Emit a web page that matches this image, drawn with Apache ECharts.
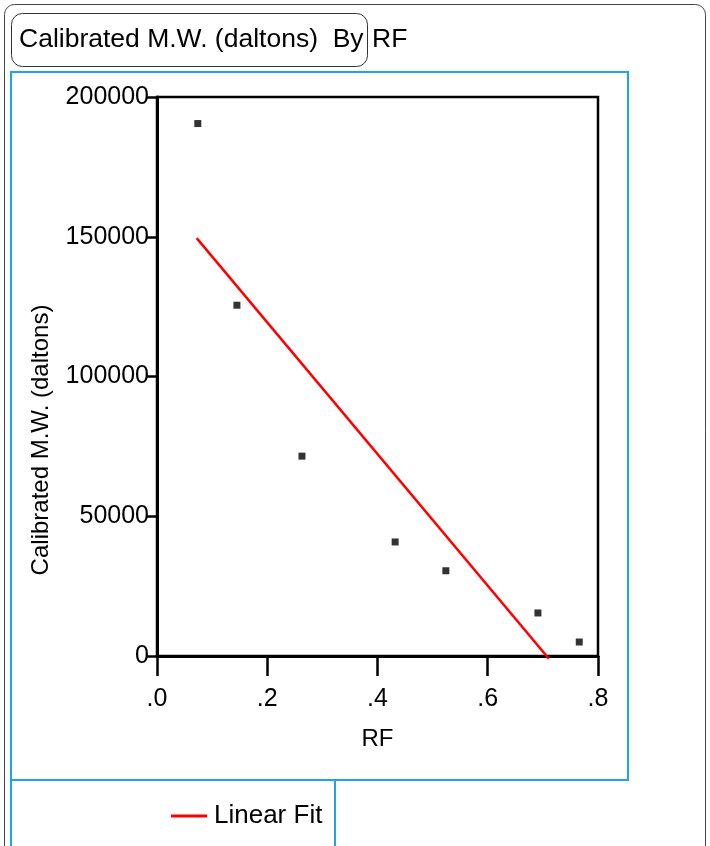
<!DOCTYPE html>
<html>
<head>
<meta charset="utf-8">
<script src="https://cdn.jsdelivr.net/npm/echarts@6/dist/echarts.min.js"></script>
<style>
html,body{margin:0;padding:0;background:#fff;}
#chart{width:710px;height:846px;}
</style>
</head>
<body>
<div id="chart"></div>
<script>
// Data
var rfValues = [0.074, 0.145, 0.263, 0.432, 0.524, 0.691, 0.766];
var mwValues = [190500, 125500, 71500, 40800, 30500, 15400, 5000];
var fitRF = [0.072, 0.711];
var fitMW = [149500, -1000];
var xTickLabels = ['.0', '.2', '.4', '.6', '.8'];
var titleLeft = 'Calibrated M.W. (daltons)  By';
var titleRight = 'RF';
var yName = 'Calibrated M.W. (daltons)';
var xName = 'RF';
var legendName = 'Linear Fit';

var FONT = '"Liberation Sans", Arial, sans-serif';
var BLUE = '#1aa7e0';

var scatterData = rfValues.map(function (x, i) { return [x, mwValues[i]]; });
var fitData = fitRF.map(function (x, i) { return [x, fitMW[i]]; });

var chart = echarts.init(document.getElementById('chart'), null, {renderer: 'canvas'});
chart.setOption({
  animation: false,
  backgroundColor: '#fff',
  grid: {
    left: 157, top: 97, right: 112, bottom: 190,
    show: true, borderColor: '#000', borderWidth: 2.5, backgroundColor: 'transparent'
  },
  xAxis: {
    type: 'value', min: 0, max: 0.8, interval: 0.2,
    name: xName, nameLocation: 'middle', nameGap: 71,
    nameTextStyle: {fontFamily: FONT, fontSize: 24, color: '#000'},
    axisLine: {show: true, onZero: false, lineStyle: {color: '#000', width: 3}},
    axisTick: {show: true, inside: false, length: 20, lineStyle: {color: '#000', width: 2.5}},
    axisLabel: {
      margin: 31, fontFamily: FONT, fontSize: 25, color: '#000',
      formatter: function (v) { return xTickLabels[Math.round(v / 0.2)]; }
    },
    splitLine: {show: false}
  },
  yAxis: {
    type: 'value', min: 0, max: 200000, interval: 50000,
    axisLine: {show: true, onZero: false, lineStyle: {color: '#000', width: 3}},
    axisTick: {show: true, inside: false, length: 10, lineStyle: {color: '#000', width: 2.5}},
    axisLabel: {margin: 8, fontFamily: FONT, fontSize: 25, color: '#000',
      formatter: function (v) { return String(v); }},
    splitLine: {show: false}
  },
  legend: {
    show: true,
    data: [legendName],
    left: 166, top: 798,
    icon: 'rect', itemWidth: 36, itemHeight: 3, itemGap: 0,
    textStyle: {fontFamily: FONT, fontSize: 26, color: '#000', padding: [0, 0, 0, 2]},
    selectedMode: false
  },
  series: [
    {
      type: 'scatter', name: 'points', data: scatterData,
      symbol: 'rect', symbolSize: 7,
      itemStyle: {color: '#000'}
    },
    {
      type: 'line', name: legendName, data: fitData,
      showSymbol: false, symbol: 'none', clip: false,
      lineStyle: {color: '#ff0000', width: 2.5},
      itemStyle: {color: '#ff0000'}
    }
  ],
  graphic: [
    {type: 'rect', shape: {x: 4.5, y: 4.5, width: 701, height: 860, r: 10},
     style: {fill: 'none', stroke: '#444', lineWidth: 1}, silent: true},
    {type: 'rect', shape: {x: 11.5, y: 13.5, width: 356, height: 53, r: 11},
     style: {fill: 'none', stroke: '#333', lineWidth: 1}, silent: true},
    {type: 'text', left: 19, top: 26,
     style: {text: titleLeft, font: '26.5px ' + FONT, fill: '#000'}, silent: true},
    {type: 'text', left: 372, top: 26,
     style: {text: titleRight, font: '26.5px ' + FONT, fill: '#000'}, silent: true},
    {type: 'text', x: 41, y: 440, rotation: Math.PI / 2,
     style: {text: yName, font: '24px ' + FONT, fill: '#000', align: 'center', verticalAlign: 'middle'},
     silent: true},
    {type: 'rect', shape: {x: 11, y: 72, width: 617, height: 708},
     style: {fill: 'none', stroke: BLUE, lineWidth: 2}, silent: true, z: -1},
    {type: 'rect', shape: {x: 11, y: 780, width: 324, height: 70},
     style: {fill: 'none', stroke: BLUE, lineWidth: 2}, silent: true, z: -1}
  ]
});
</script>
</body>
</html>
